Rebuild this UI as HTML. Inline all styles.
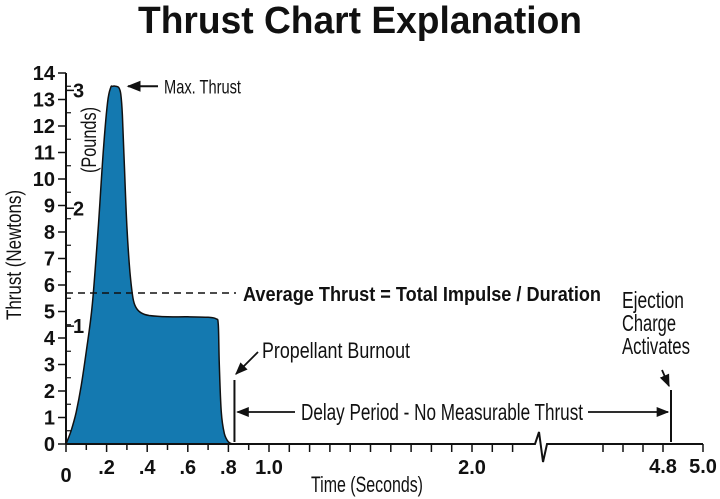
<!DOCTYPE html>
<html><head><meta charset="utf-8"><style>
html,body{margin:0;padding:0;background:#fff;}
svg{display:block;font-family:"Liberation Sans",sans-serif;}
.c{font-family:"Liberation Sans Narrow","Liberation Sans",sans-serif;}
</style></head><body>
<svg id="chart" width="720" height="499" viewBox="0 0 720 499">
<defs><marker id="ah" viewBox="0 0 10 10" refX="9" refY="5" markerWidth="7" markerHeight="7" orient="auto-start-reverse"><path d="M0,1 L10,5 L0,9 z" fill="#111"/></marker></defs>
<text x="360" y="33" text-anchor="middle" font-size="38" font-weight="bold" fill="#111" textLength="444" lengthAdjust="spacingAndGlyphs">Thrust Chart Explanation</text>
<g id="plot"></g>
</svg>
<script>
const times=[0,0.025,0.05,0.075,0.1,0.13,0.16,0.185,0.205,0.22,0.23,0.245,0.26,0.27,0.278,0.288,0.3,0.315,0.33,0.345,0.37,0.41,0.5,0.6,0.7,0.74,0.75,0.755,0.765,0.78,0.8,0.82];
const thrust=[0,0.5,1.2,2.2,3.5,5.3,8.3,11.2,12.9,13.45,13.5,13.5,13.45,13.2,12.4,10.4,8.2,6.5,5.5,5.15,4.95,4.85,4.8,4.8,4.78,4.72,4.5,3.0,1.2,0.4,0.08,0];
const yTicks=[0,1,2,3,4,5,6,7,8,9,10,11,12,13,14];
const lbTicks=[1,2,3];
const xLabels=[0,0.2,0.4,0.6,0.8,1.0,2.0,4.8,5.0];
const xLabelText=["0",".2",".4",".6",".8","1.0","2.0","4.8","5.0"];
const avgThrust=5.7;
const burnout=0.82, ejection=4.84;
const NS="http://www.w3.org/2000/svg";
const g=document.getElementById('plot');
const y0=444, ppn=26.5;
const Y=v=>y0-v*ppn;
const X=t=>t<=2.4?66+203*t:703-(5-t)*200;
function el(tag,a,p){const e=document.createElementNS(NS,tag);for(const k in a)e.setAttribute(k,a[k]);(p||g).appendChild(e);return e;}
function txt(x,y,s,a){const e=el('text',Object.assign({x:x,y:y,fill:'#111'},a));e.textContent=s;return e;}
const P=times.map((t,i)=>[X(t),Y(thrust[i])]);
let d='M'+P[0][0]+','+P[0][1];
for(let i=0;i<P.length-1;i++){
 const p0=P[Math.max(0,i-1)],p1=P[i],p2=P[i+1],p3=P[Math.min(P.length-1,i+2)];
 const c1=[p1[0]+(p2[0]-p0[0])/6,p1[1]+(p2[1]-p0[1])/6],c2=[p2[0]-(p3[0]-p1[0])/6,p2[1]-(p3[1]-p1[1])/6];
 d+=` C${c1[0].toFixed(1)},${c1[1].toFixed(1)} ${c2[0].toFixed(1)},${c2[1].toFixed(1)} ${p2[0].toFixed(1)},${p2[1].toFixed(1)}`;
}
d+=' Z';
const area=el('path',{d:d,fill:'#1479b0',stroke:'#111','stroke-width':1.5,'stroke-linejoin':'round'});


const ya=el('line',{x1:66,y1:Y(14),x2:66,y2:y0,stroke:'#111','stroke-width':2});


yTicks.forEach(v=>{
 el('line',{x1:58,x2:66,y1:Y(v),y2:Y(v),stroke:'#111','stroke-width':1.5});
 if(v<14) el('line',{x1:66,x2:71,y1:Y(v+0.5),y2:Y(v+0.5),stroke:'#111','stroke-width':1.2});
 const t=txt(55,Y(v)+7,String(v),{'text-anchor':'end','font-size':20,'font-weight':'bold'});
 
 
});
lbTicks.forEach(v=>{
 const yy=Y(v*4.448);
 el('line',{x1:66,x2:74,y1:yy,y2:yy,stroke:'#111','stroke-width':1.5});
 const t=txt(73,yy+7,String(v),{'font-size':20,'font-weight':'bold'});
 
 
});
const yt=txt(0,0,'Thrust (Newtons)',{'class':'c','font-size':21,'text-anchor':'middle',textLength:130,lengthAdjust:'spacingAndGlyphs',transform:'translate(21,255) rotate(-90)'});


const pt=txt(0,0,'(Pounds)',{'class':'c','font-size':21,'text-anchor':'middle',textLength:66,lengthAdjust:'spacingAndGlyphs',transform:'translate(96,140) rotate(-90)'});


const bx=X(2.34);
const xa=el('path',{d:`M66,${y0} L${bx-6},${y0} L${bx-2},${y0-12} L${bx+2},${y0+18} L${bx+6},${y0} L703,${y0}`,fill:'none',stroke:'#111','stroke-width':2});


for(let k=0;k<=23;k++){const t=k/10;if(Math.abs(X(t)-bx)<12)continue;el('line',{x1:X(t),x2:X(t),y1:y0,y2:y0+(k%2===0||k>=10?8:6),stroke:'#111','stroke-width':1.5});}
[4.6,4.7,4.8,5.0,4.5].forEach(t=>el('line',{x1:X(t),x2:X(t),y1:y0,y2:y0+8,stroke:'#111','stroke-width':1.5}));
xLabels.forEach((v,i)=>{
 const t=txt(X(v),v===0?482:(v>=4?473:474),xLabelText[i],{'text-anchor':'middle','font-size':20,'font-weight':'bold'});
 
 
});
const xt=txt(367,492,'Time (Seconds)',{'class':'c','font-size':22,'text-anchor':'middle',textLength:112,lengthAdjust:'spacingAndGlyphs'});


const al=el('line',{x1:66,x2:236,y1:Y(avgThrust),y2:Y(avgThrust),stroke:'#111','stroke-width':1.5,'stroke-dasharray':'7,5'});


const at=txt(243,Y(avgThrust)+8,'Average Thrust = Total Impulse / Duration',{'class':'c','font-size':20,'font-weight':'bold',textLength:358,lengthAdjust:'spacingAndGlyphs'});


el('line',{x1:158,x2:128,y1:Y(13.5),y2:Y(13.5),stroke:'#111','stroke-width':2,'marker-end':'url(#ah)'});
const mt=txt(164,Y(13.5)+7,'Max. Thrust',{'class':'c','font-size':19,textLength:77,lengthAdjust:'spacingAndGlyphs'});


const bxp=X(burnout)+2;
el('line',{x1:bxp,x2:bxp,y1:380,y2:442,stroke:'#111','stroke-width':2});
el('line',{x1:258,x2:236,y1:352,y2:374,stroke:'#111','stroke-width':1.8,'marker-end':'url(#ah)'});
const bt=txt(262,358,'Propellant Burnout',{'class':'c','font-size':22,textLength:148,lengthAdjust:'spacingAndGlyphs'});


const ex=X(ejection);
el('line',{x1:ex,x2:ex,y1:390,y2:442,stroke:'#111','stroke-width':2});
el('line',{x1:662,x2:669,y1:370,y2:386,stroke:'#111','stroke-width':1.8,'marker-end':'url(#ah)'});
[['Ejection',62],['Charge',54],['Activates',68]].forEach((s,i)=>{const t=txt(622,308+i*23,s[0],{'class':'c','font-size':23,textLength:s[1],lengthAdjust:'spacingAndGlyphs'});

});
el('line',{x1:295,x2:bxp+3,y1:412,y2:412,stroke:'#111','stroke-width':1.8,'marker-end':'url(#ah)'});
el('line',{x1:588,x2:ex-3,y1:412,y2:412,stroke:'#111','stroke-width':1.8,'marker-end':'url(#ah)'});
const dt=txt(301,420,'Delay Period - No Measurable Thrust',{'class':'c','font-size':23,textLength:282,lengthAdjust:'spacingAndGlyphs'});


</script>
</body></html>
